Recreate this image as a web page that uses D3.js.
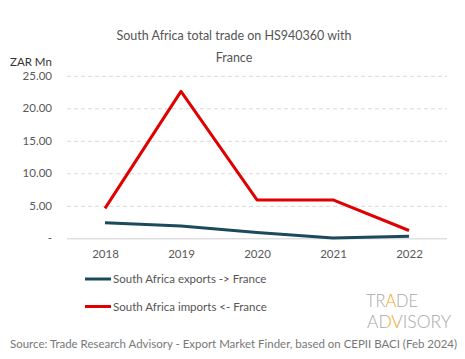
<!DOCTYPE html>
<html><head><meta charset="utf-8">
<script src="https://cdn.jsdelivr.net/npm/d3@7"></script>
<style>body{margin:0;background:#fff}svg{display:block}text{font-family:Lato,"Noto Sans",sans-serif}</style>
</head><body>
<svg id="c" width="465" height="359"></svg>
<script>
const years = ["2018","2019","2020","2021","2022"];
const exportsFR = [2.4, 1.9, 0.9, 0.05, 0.3];
const importsFR = [4.6, 22.6, 5.9, 5.9, 1.2];
const yTicks = [0, 5, 10, 15, 20, 25];
const seriesNames = ["South Africa exports -> France", "South Africa imports <- France"];
const seriesColors = ["#1b4a5c", "#e00000"];

const svg = d3.select("#c");
const x = d3.scalePoint().domain(years).range([67, 447]).padding(0.5);
const y = d3.scaleLinear().domain([0, 25]).range([238.3, 75.8]);

// title
svg.append("text").attr("x", 234).attr("y", 40).attr("text-anchor", "middle")
  .attr("font-size", 12.5).attr("fill", "#555").text("South Africa total trade on HS940360 with");
svg.append("text").attr("x", 234).attr("y", 62).attr("text-anchor", "middle")
  .attr("font-size", 12.5).attr("fill", "#555").text("France");
svg.append("text").attr("x", 10).attr("y", 66).attr("font-size", 11.5).attr("fill", "#333").text("ZAR Mn");

// grid
const yAxis = d3.axisLeft(y).tickValues(yTicks).tickSize(-380)
  .tickFormat(d => d === 0 ? "-" : d3.format(".2f")(d));
const gy = svg.append("g").attr("transform", "translate(67,0)").call(yAxis);
gy.select(".domain").remove();
gy.selectAll(".tick line").attr("stroke", d => d === 0 ? "#d0d0d0" : "#d9d9d9")
  .attr("stroke-dasharray", d => d === 0 ? null : "4,3");
gy.selectAll(".tick text").attr("x", -15).attr("font-size", 11.5).attr("fill", "#595959")
  .attr("font-family", "Lato, 'Noto Sans', sans-serif");

const xAxis = d3.axisBottom(x).tickSize(0).tickPadding(12);
const gx = svg.append("g").attr("transform", "translate(0,238.3)").call(xAxis);
gx.select(".domain").remove();
gx.selectAll(".tick text").attr("font-size", 11.5).attr("fill", "#595959")
  .attr("font-family", "Lato, 'Noto Sans', sans-serif");

// lines
const line = d3.line().x((d, i) => x(years[i])).y(d => y(d));
[exportsFR, importsFR].forEach((s, i) => {
  svg.append("path").datum(s).attr("d", line).attr("fill", "none")
    .attr("stroke", seriesColors[i]).attr("stroke-width", 3).attr("stroke-linejoin", "round");
});

// legend
const ly = [279, 306.5];
seriesNames.forEach((n, i) => {
  svg.append("line").attr("x1", 85).attr("x2", 111).attr("y1", ly[i]).attr("y2", ly[i])
    .attr("stroke", seriesColors[i]).attr("stroke-width", 3);
  svg.append("text").attr("x", 113).attr("y", ly[i] + 4).attr("font-size", 11.5)
    .attr("fill", "#555").text(n);
});

// logo: single texts, orange letter via hard-stop gradient
const defs = svg.append("defs");
function hardGrad(id, x0, x1, a, b) {
  const g = defs.append("linearGradient").attr("id", id).attr("gradientUnits", "userSpaceOnUse")
    .attr("x1", x0).attr("x2", x1).attr("y1", 0).attr("y2", 0);
  const gray = "#a6a6a6", org = "#f0a020";
  [[0, gray], [a, gray], [a, org], [b, org], [b, gray], [1, gray]].forEach(([o, c]) =>
    g.append("stop").attr("offset", o).attr("stop-color", c));
}
hardGrad("gTrade", 366, 418, 0.385, 0.6);
hardGrad("gAdv", 367, 451, 0.255, 0.385);
svg.append("text").attr("x", 366).attr("y", 306.5).attr("font-size", 18.5).attr("font-weight", 300)
  .attr("fill", "url(#gTrade)").attr("textLength", 52).attr("lengthAdjust", "spacingAndGlyphs").text("TRADE");
svg.append("text").attr("x", 367).attr("y", 327.5).attr("font-size", 17.5).attr("font-weight", 300)
  .attr("fill", "url(#gAdv)").attr("textLength", 84).attr("lengthAdjust", "spacingAndGlyphs").text("ADVISORY");

// source
svg.append("text").attr("x", 10).attr("y", 348).attr("font-size", 11.5).attr("fill", "#777")
  .attr("textLength", 447).attr("lengthAdjust", "spacingAndGlyphs")
  .text("Source: Trade Research Advisory - Export Market Finder, based on CEPII BACI (Feb 2024)");
</script>
</body></html>
